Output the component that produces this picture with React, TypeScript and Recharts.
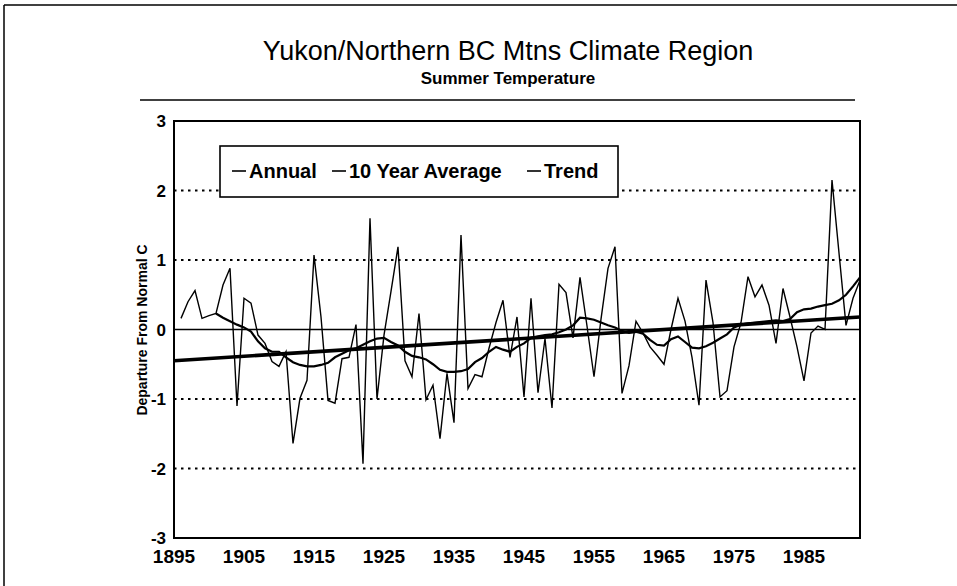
import React from "react";
import { LineChart, Line, XAxis, YAxis, ReferenceLine, ReferenceArea } from "recharts";

const TITLE = "Yukon/Northern BC Mtns Climate Region";
const SUBTITLE = "Summer Temperature";
const Y_LABEL = "Departure From Normal C";
const LEGEND_LABELS = ["Annual", "10 Year Average", "Trend"];

const FIRST_YEAR = 1896;
const AVG_FIRST_YEAR = 1901;

// Annual departures 1896-1993
const annual = [
  0.16, 0.40, 0.56, 0.16, 0.20, 0.23, 0.64, 0.88, -1.10, 0.45,
  0.38, -0.08, -0.20, -0.46, -0.53, -0.32, -1.64, -0.99, -0.73, 1.07,
  0.18, -1.02, -1.06, -0.42, -0.40, 0.07, -1.93, 1.60, -1.00, -0.08,
  0.55, 1.19, -0.45, -0.68, 0.23, -1.01, -0.80, -1.57, -0.63, -1.34,
  1.36, -0.85, -0.65, -0.68, -0.27, 0.10, 0.42, -0.40, 0.18, -0.97,
  0.45, -0.91, -0.13, -1.13, 0.65, 0.53, -0.12, 0.75, 0.05, -0.68,
  0.15, 0.88, 1.19, -0.92, -0.52, 0.12, -0.05, -0.25, -0.37, -0.50,
  0.00, 0.45, 0.12, -0.40, -1.09, 0.71, 0.10, -0.97, -0.88, -0.25,
  0.10, 0.76, 0.47, 0.64, 0.35, -0.20, 0.59, 0.18, -0.25, -0.74,
  -0.05, 0.05, 0.00, 2.15, 1.10, 0.06, 0.45, 0.71,
];

// 10 year average 1901-1993
const avg10 = [
  0.23, 0.17, 0.12, 0.07, 0.03, -0.03, -0.17, -0.27, -0.32, -0.32,
  -0.40, -0.47, -0.51, -0.53, -0.53, -0.51, -0.48, -0.40, -0.35, -0.30,
  -0.27, -0.22, -0.17, -0.13, -0.12, -0.18, -0.23, -0.32, -0.38, -0.40,
  -0.43, -0.50, -0.58, -0.61, -0.61, -0.60, -0.57, -0.47, -0.41, -0.32,
  -0.25, -0.29, -0.32, -0.25, -0.20, -0.12, -0.10, -0.08, -0.07, -0.04,
  0.00, 0.06, 0.17, 0.16, 0.14, 0.10, 0.06, 0.03, -0.02, -0.05,
  -0.03, -0.06, -0.15, -0.22, -0.23, -0.14, -0.10, -0.18, -0.26, -0.27,
  -0.24, -0.19, -0.13, -0.07, 0.03, 0.07, 0.09, 0.10, 0.11, 0.12,
  0.13, 0.12, 0.15, 0.25, 0.29, 0.30, 0.33, 0.35, 0.37, 0.42,
  0.50, 0.62, 0.75,
];

const trendYears = [1895, 1993];
const trendValues = [-0.45, 0.18];

const xTicks = [1895, 1905, 1915, 1925, 1935, 1945, 1955, 1965, 1975, 1985];
const yTicks = [-3, -2, -1, 0, 1, 2, 3];
const dottedGrid = [2, 1, -1, -2];

const data = annual.map((v, i) => {
  const year = FIRST_YEAR + i;
  const j = year - AVG_FIRST_YEAR;
  return { year, annual: v, avg: j >= 0 && j < avg10.length ? avg10[j] : null };
});
const trendData = trendYears.map((y, i) => ({ year: y, trend: trendValues[i] }));

const FONT = "'Liberation Sans', Arial, Helvetica, sans-serif";

export default function App() {
  const legendX = [232, 332, 527];
  return (
    <div style={{ position: "absolute", left: 0, top: 0, width: 957, height: 586, background: "#fff", fontFamily: FONT }}>
      <LineChart
        width={957}
        height={586}
        data={data}
        margin={{ top: 121, right: 97, bottom: 0, left: 0 }}
      >
        <XAxis
          dataKey="year"
          type="number"
          domain={[1895, 1993]}
          ticks={xTicks}
          tickLine={false}
          height={48}
          tickMargin={6}
          axisLine={{ stroke: "#000", strokeWidth: 2 }}
          tick={{ fill: "#000", fontSize: 19, fontWeight: 700, fontFamily: FONT }}
        />
        <YAxis
          type="number"
          domain={[-3, 3]}
          ticks={yTicks}
          tickLine={false}
          width={174}
          axisLine={{ stroke: "#000", strokeWidth: 2 }}
          tick={{ fill: "#000", fontSize: 17, fontWeight: 700, fontFamily: FONT }}
        />
        {dottedGrid.map((g) => (
          <ReferenceLine key={g} y={g} stroke="#000" strokeWidth={1.8} strokeDasharray="2.5 4.5" />
        ))}
        <ReferenceLine y={0} stroke="#000" strokeWidth={1.4} />
        <ReferenceArea x1={1895} x2={1993} y1={-3} y2={3} fill="none" stroke="#000" strokeWidth={2} />
        <Line type="linear" dataKey="annual" stroke="#000" strokeWidth={1.4} dot={false} isAnimationActive={false} />
        <Line type="linear" dataKey="avg" stroke="#000" strokeWidth={2.2} dot={false} isAnimationActive={false} />
        <Line type="linear" data={trendData} dataKey="trend" stroke="#000" strokeWidth={3.6} dot={false} isAnimationActive={false} />
      </LineChart>
      <svg width={957} height={586} style={{ position: "absolute", left: 0, top: 0, pointerEvents: "none" }}>
        <line x1={4} y1={5} x2={957} y2={5} stroke="#000" strokeWidth={1.5} />
        <line x1={4} y1={5} x2={4} y2={586} stroke="#000" strokeWidth={1.5} />
        <text x={508} y={60} textAnchor="middle" fontSize={27} fontFamily={FONT} fill="#000">{TITLE}</text>
        <text x={508} y={84} textAnchor="middle" fontSize={17} fontWeight={700} fontFamily={FONT} fill="#000">{SUBTITLE}</text>
        <line x1={140} y1={100} x2={855} y2={100} stroke="#000" strokeWidth={1.6} />
        <text
          x={0}
          y={0}
          transform="translate(147,330) rotate(-90)"
          textAnchor="middle"
          fontSize={14}
          fontWeight={700}
          fontFamily={FONT}
          fill="#000"
        >
          {Y_LABEL}
        </text>
        <rect x={220} y={146} width={398} height={51} fill="#fff" stroke="#000" strokeWidth={1.6} />
        {LEGEND_LABELS.map((lab, i) => (
          <g key={lab}>
            <line x1={legendX[i]} y1={171} x2={legendX[i] + 14} y2={171} stroke="#000" strokeWidth={1.6} />
            <text x={legendX[i] + 17} y={178} fontSize={20} fontWeight={700} fontFamily={FONT} fill="#000">{lab}</text>
          </g>
        ))}
      </svg>
    </div>
  );
}
